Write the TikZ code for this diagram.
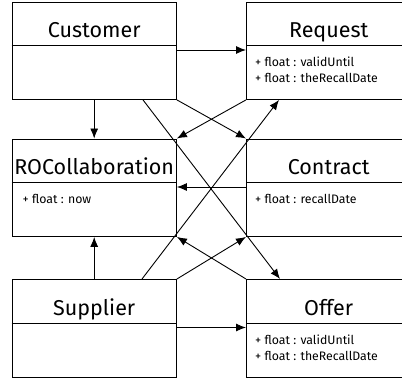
\documentclass[tikz,border=0pt]{standalone}
\usepackage{fontspec}
\setmainfont{Fira Sans}
\usetikzlibrary{arrows.meta,calc}
\begin{document}
\begin{tikzpicture}[x=1pt,y=-1pt,
  classbox/.style={draw=black,line width=0.9pt,minimum width=164.5pt,minimum height=97.5pt,inner sep=0pt,anchor=north west},
  title/.style={anchor=base,inner sep=0pt,font=\fontsize{21.5}{24}\selectfont},
  attr/.style={anchor=base west,inner sep=0pt,font=\fontsize{12.3}{14}\selectfont},
  divider/.style={line width=0.9pt},
  arr/.style={line width=0.9pt,-{Latex[length=10pt,width=8pt]}}]
\useasboundingbox (0,0) rectangle (402,380);
\clip (0,0) rectangle (402,380);
\fill[white] (0,0) rectangle (402,380);
% boxes
\node[classbox] (cust) at (11.5,1.5) {};
\node[classbox] (req)  at (246,1.5) {};
\node[classbox] (roc)  at (11.5,138.5) {};
\node[classbox] (con)  at (246,138.5) {};
\node[classbox] (sup)  at (11.5,279) {};
\node[classbox] (off)  at (246,279) {};
% dividers
\foreach \b in {cust,req,roc,con,sup,off}{
  \draw[divider] ($(\b.north west)+(0,44)$) -- ($(\b.north east)+(0,44)$);
}
% titles
\node[title] (custT) at ($(cust.north)+(0,36)$) {Customer};
\node[title] (reqT)  at ($(req.north)+(0,36)$) {Request};
\node[title] (rocT)  at ($(roc.north)+(0,36)$) {ROCollaboration};
\node[title] (conT)  at ($(con.north)+(0,36)$) {Contract};
\node[title] (supT)  at ($(sup.north)+(0,36)$) {Supplier};
\node[title] (offT)  at ($(off.north)+(0,36)$) {Offer};
% attributes
\node[attr] (reqA1) at ($(req.north west)+(9,65)$) {+ float : validUntil};
\node[attr] (reqA2) at ($(req.north west)+(9,81)$) {+ float : theRecallDate};
\node[attr] (rocA1) at ($(roc.north west)+(11,65)$) {+ float : now};
\node[attr] (conA1) at ($(con.north west)+(9,65)$) {+ float : recallDate};
\node[attr] (offA1) at ($(off.north west)+(9,65)$) {+ float : validUntil};
\node[attr] (offA2) at ($(off.north west)+(9,81)$) {+ float : theRecallDate};
% connectors
\draw[arr] ($(cust.north east)+(0,48.5)$) -- ($(req.north west)+(0,48.5)$);
\draw[arr] (cust.south) -- (roc.north);
\draw[arr] ($(cust.south west)+(131.5,0)$) -- ($(off.north west)+(34,0)$);
\draw[arr] (cust.south east) -- (con.north west);
\draw[arr] (req.south west) -- (roc.north east);
\draw[arr] ($(con.north west)+(0,48.5)$) -- ($(roc.north east)+(0,48.5)$);
\draw[arr] (sup.north) -- (roc.south);
\draw[arr] ($(sup.north west)+(130.5,0)$) -- ($(req.south west)+(33,0)$);
\draw[arr] (sup.north east) -- (con.south west);
\draw[arr] (off.north west) -- (roc.south east);
\draw[arr] ($(sup.north east)+(0,48.5)$) -- ($(off.north west)+(0,48.5)$);
\end{tikzpicture}
\end{document}
